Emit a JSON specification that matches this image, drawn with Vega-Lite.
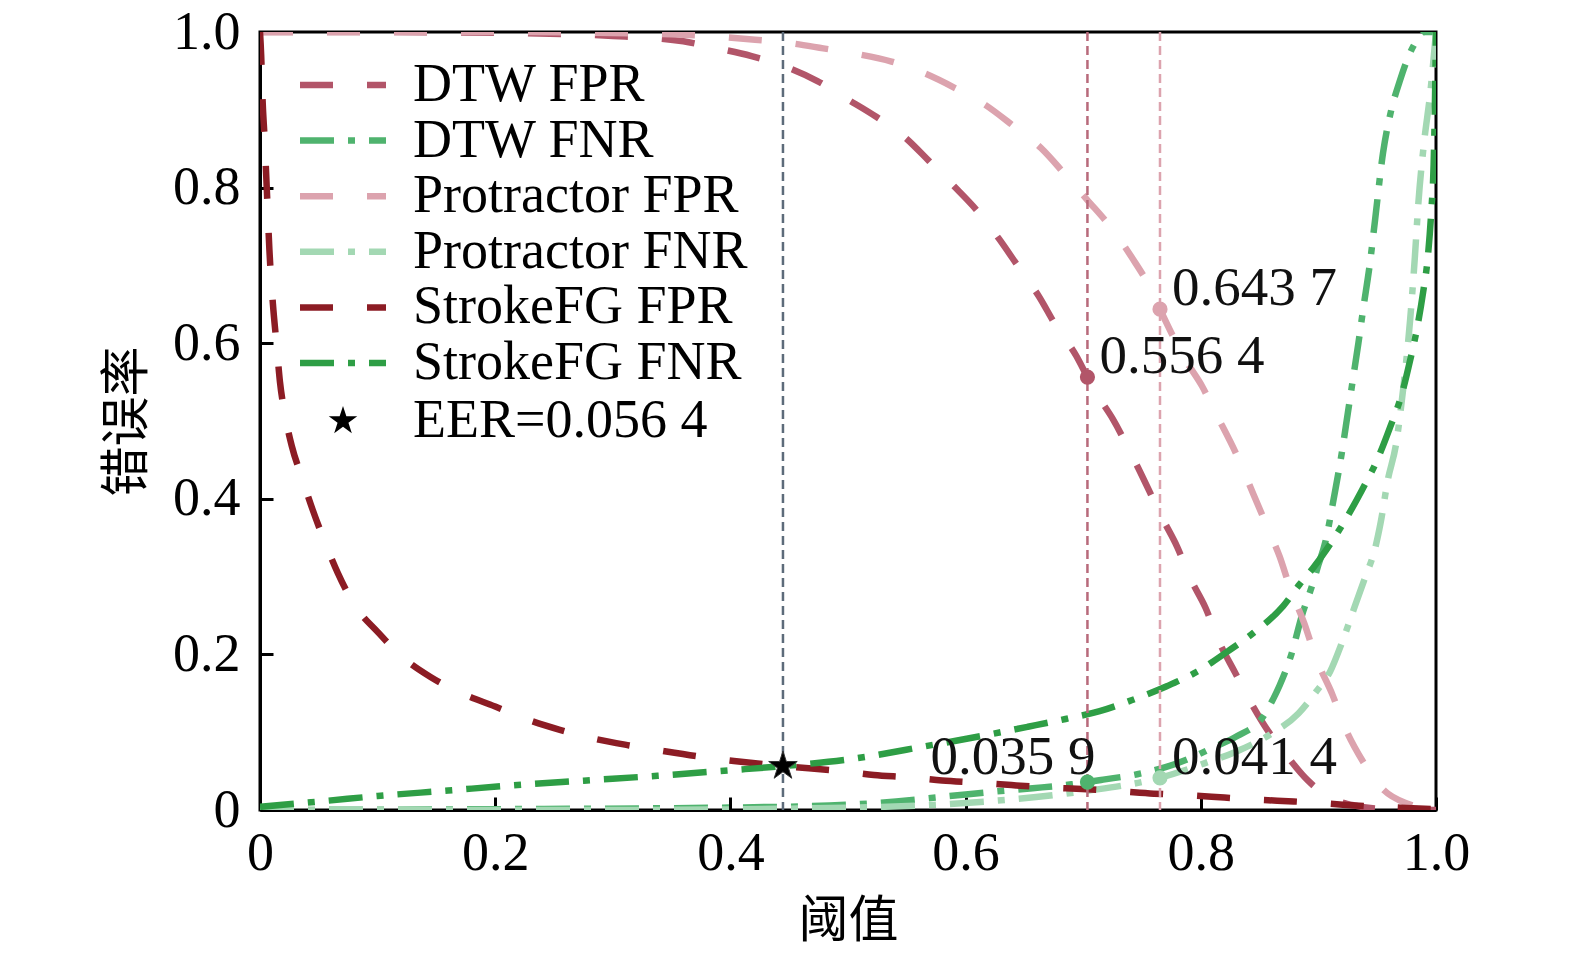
{
  "$schema": "https://vega.github.io/schema/vega-lite/v6.json",
  "width": 1176,
  "height": 778,
  "autosize": {"type": "none"},
  "padding": {"left": 260, "top": 32, "right": 139, "bottom": 146},
  "background": "white",
  "config": {
    "view": {"stroke": "black", "strokeWidth": 3},
    "font": "Liberation Serif",
    "axis": {
      "domainColor": "black",
      "domainWidth": 3,
      "tickColor": "black",
      "tickWidth": 3,
      "tickSize": -13,
      "grid": false,
      "labelFlush": false,
      "labelFont": "Liberation Serif",
      "labelFontSize": 54,
      "labelColor": "black",
      "titleFont": "Noto Sans CJK SC",
      "titleFontSize": 50,
      "titleFontWeight": "normal",
      "titleColor": "black"
    }
  },
  "datasets": {
    "curves": [
      {"series": "DTW FPR", "x": 0, "y": 1.0},
      {"series": "DTW FPR", "x": 0.1, "y": 1.0},
      {"series": "DTW FPR", "x": 0.2, "y": 0.999},
      {"series": "DTW FPR", "x": 0.3, "y": 0.995},
      {"series": "DTW FPR", "x": 0.36, "y": 0.988},
      {"series": "DTW FPR", "x": 0.389, "y": 0.979},
      {"series": "DTW FPR", "x": 0.418, "y": 0.969},
      {"series": "DTW FPR", "x": 0.446, "y": 0.956},
      {"series": "DTW FPR", "x": 0.474, "y": 0.937},
      {"series": "DTW FPR", "x": 0.498, "y": 0.915},
      {"series": "DTW FPR", "x": 0.524, "y": 0.891},
      {"series": "DTW FPR", "x": 0.548, "y": 0.865},
      {"series": "DTW FPR", "x": 0.569, "y": 0.834},
      {"series": "DTW FPR", "x": 0.59, "y": 0.802},
      {"series": "DTW FPR", "x": 0.61, "y": 0.77},
      {"series": "DTW FPR", "x": 0.628, "y": 0.735},
      {"series": "DTW FPR", "x": 0.645, "y": 0.698},
      {"series": "DTW FPR", "x": 0.662, "y": 0.661},
      {"series": "DTW FPR", "x": 0.677, "y": 0.622},
      {"series": "DTW FPR", "x": 0.694, "y": 0.584},
      {"series": "DTW FPR", "x": 0.7036, "y": 0.5564},
      {"series": "DTW FPR", "x": 0.711, "y": 0.536},
      {"series": "DTW FPR", "x": 0.725, "y": 0.503},
      {"series": "DTW FPR", "x": 0.745, "y": 0.445},
      {"series": "DTW FPR", "x": 0.768, "y": 0.373},
      {"series": "DTW FPR", "x": 0.78, "y": 0.338},
      {"series": "DTW FPR", "x": 0.791, "y": 0.298},
      {"series": "DTW FPR", "x": 0.804, "y": 0.26},
      {"series": "DTW FPR", "x": 0.815, "y": 0.218},
      {"series": "DTW FPR", "x": 0.829, "y": 0.177},
      {"series": "DTW FPR", "x": 0.843, "y": 0.137},
      {"series": "DTW FPR", "x": 0.857, "y": 0.102},
      {"series": "DTW FPR", "x": 0.873, "y": 0.07},
      {"series": "DTW FPR", "x": 0.891, "y": 0.038},
      {"series": "DTW FPR", "x": 0.91, "y": 0.016},
      {"series": "DTW FPR", "x": 0.93, "y": 0.006},
      {"series": "DTW FPR", "x": 0.96, "y": 0.001},
      {"series": "DTW FPR", "x": 1.0, "y": 0.0},

      {"series": "DTW FNR", "x": 0, "y": 0.0},
      {"series": "DTW FNR", "x": 0.2, "y": 0.001},
      {"series": "DTW FNR", "x": 0.44, "y": 0.004},
      {"series": "DTW FNR", "x": 0.541, "y": 0.011},
      {"series": "DTW FNR", "x": 0.568, "y": 0.015},
      {"series": "DTW FNR", "x": 0.6, "y": 0.02},
      {"series": "DTW FNR", "x": 0.627, "y": 0.024},
      {"series": "DTW FNR", "x": 0.657, "y": 0.028},
      {"series": "DTW FNR", "x": 0.69, "y": 0.033},
      {"series": "DTW FNR", "x": 0.7036, "y": 0.0359},
      {"series": "DTW FNR", "x": 0.717, "y": 0.039},
      {"series": "DTW FNR", "x": 0.746, "y": 0.046},
      {"series": "DTW FNR", "x": 0.77, "y": 0.055},
      {"series": "DTW FNR", "x": 0.79, "y": 0.066},
      {"series": "DTW FNR", "x": 0.81, "y": 0.08},
      {"series": "DTW FNR", "x": 0.831, "y": 0.095},
      {"series": "DTW FNR", "x": 0.853, "y": 0.12},
      {"series": "DTW FNR", "x": 0.861, "y": 0.141},
      {"series": "DTW FNR", "x": 0.867, "y": 0.16},
      {"series": "DTW FNR", "x": 0.877, "y": 0.2},
      {"series": "DTW FNR", "x": 0.886, "y": 0.25},
      {"series": "DTW FNR", "x": 0.895, "y": 0.29},
      {"series": "DTW FNR", "x": 0.9, "y": 0.315},
      {"series": "DTW FNR", "x": 0.906, "y": 0.345},
      {"series": "DTW FNR", "x": 0.913, "y": 0.4},
      {"series": "DTW FNR", "x": 0.92, "y": 0.46},
      {"series": "DTW FNR", "x": 0.925, "y": 0.51},
      {"series": "DTW FNR", "x": 0.93, "y": 0.56},
      {"series": "DTW FNR", "x": 0.934, "y": 0.6},
      {"series": "DTW FNR", "x": 0.938, "y": 0.643},
      {"series": "DTW FNR", "x": 0.944, "y": 0.705},
      {"series": "DTW FNR", "x": 0.948, "y": 0.756},
      {"series": "DTW FNR", "x": 0.955, "y": 0.845},
      {"series": "DTW FNR", "x": 0.962, "y": 0.9},
      {"series": "DTW FNR", "x": 0.969, "y": 0.936},
      {"series": "DTW FNR", "x": 0.977, "y": 0.97},
      {"series": "DTW FNR", "x": 0.984, "y": 0.99},
      {"series": "DTW FNR", "x": 0.99, "y": 1.0},
      {"series": "DTW FNR", "x": 1.0, "y": 1.0},

      {"series": "Protractor FPR", "x": 0, "y": 1.0},
      {"series": "Protractor FPR", "x": 0.2, "y": 1.0},
      {"series": "Protractor FPR", "x": 0.35, "y": 0.997},
      {"series": "Protractor FPR", "x": 0.421, "y": 0.99},
      {"series": "Protractor FPR", "x": 0.449, "y": 0.986},
      {"series": "Protractor FPR", "x": 0.479, "y": 0.979},
      {"series": "Protractor FPR", "x": 0.507, "y": 0.972},
      {"series": "Protractor FPR", "x": 0.537, "y": 0.962},
      {"series": "Protractor FPR", "x": 0.565, "y": 0.947},
      {"series": "Protractor FPR", "x": 0.591, "y": 0.928},
      {"series": "Protractor FPR", "x": 0.617, "y": 0.906},
      {"series": "Protractor FPR", "x": 0.64, "y": 0.88},
      {"series": "Protractor FPR", "x": 0.664, "y": 0.851},
      {"series": "Protractor FPR", "x": 0.684, "y": 0.818},
      {"series": "Protractor FPR", "x": 0.703, "y": 0.785},
      {"series": "Protractor FPR", "x": 0.725, "y": 0.746},
      {"series": "Protractor FPR", "x": 0.741, "y": 0.711},
      {"series": "Protractor FPR", "x": 0.758, "y": 0.668},
      {"series": "Protractor FPR", "x": 0.7653, "y": 0.6437},
      {"series": "Protractor FPR", "x": 0.776, "y": 0.61},
      {"series": "Protractor FPR", "x": 0.788, "y": 0.576},
      {"series": "Protractor FPR", "x": 0.801, "y": 0.545},
      {"series": "Protractor FPR", "x": 0.812, "y": 0.512},
      {"series": "Protractor FPR", "x": 0.83, "y": 0.458},
      {"series": "Protractor FPR", "x": 0.845, "y": 0.405},
      {"series": "Protractor FPR", "x": 0.857, "y": 0.362},
      {"series": "Protractor FPR", "x": 0.867, "y": 0.326},
      {"series": "Protractor FPR", "x": 0.876, "y": 0.285},
      {"series": "Protractor FPR", "x": 0.888, "y": 0.24},
      {"series": "Protractor FPR", "x": 0.898, "y": 0.195},
      {"series": "Protractor FPR", "x": 0.912, "y": 0.148},
      {"series": "Protractor FPR", "x": 0.922, "y": 0.108},
      {"series": "Protractor FPR", "x": 0.938, "y": 0.062},
      {"series": "Protractor FPR", "x": 0.956, "y": 0.025},
      {"series": "Protractor FPR", "x": 0.976, "y": 0.008},
      {"series": "Protractor FPR", "x": 1.0, "y": 0.0},

      {"series": "Protractor FNR", "x": 0, "y": 0.0},
      {"series": "Protractor FNR", "x": 0.3, "y": 0.0},
      {"series": "Protractor FNR", "x": 0.5, "y": 0.003},
      {"series": "Protractor FNR", "x": 0.6, "y": 0.009},
      {"series": "Protractor FNR", "x": 0.7, "y": 0.024},
      {"series": "Protractor FNR", "x": 0.7653, "y": 0.0414},
      {"series": "Protractor FNR", "x": 0.79, "y": 0.053},
      {"series": "Protractor FNR", "x": 0.803, "y": 0.06},
      {"series": "Protractor FNR", "x": 0.83, "y": 0.075},
      {"series": "Protractor FNR", "x": 0.86, "y": 0.098},
      {"series": "Protractor FNR", "x": 0.883, "y": 0.124},
      {"series": "Protractor FNR", "x": 0.898, "y": 0.152},
      {"series": "Protractor FNR", "x": 0.91, "y": 0.178},
      {"series": "Protractor FNR", "x": 0.92, "y": 0.215},
      {"series": "Protractor FNR", "x": 0.931, "y": 0.262},
      {"series": "Protractor FNR", "x": 0.94, "y": 0.3},
      {"series": "Protractor FNR", "x": 0.948, "y": 0.335},
      {"series": "Protractor FNR", "x": 0.953, "y": 0.37},
      {"series": "Protractor FNR", "x": 0.959, "y": 0.424},
      {"series": "Protractor FNR", "x": 0.966, "y": 0.47},
      {"series": "Protractor FNR", "x": 0.972, "y": 0.54},
      {"series": "Protractor FNR", "x": 0.978, "y": 0.63},
      {"series": "Protractor FNR", "x": 0.982, "y": 0.71},
      {"series": "Protractor FNR", "x": 0.985, "y": 0.78},
      {"series": "Protractor FNR", "x": 0.99, "y": 0.86},
      {"series": "Protractor FNR", "x": 0.995, "y": 0.92},
      {"series": "Protractor FNR", "x": 1.0, "y": 1.0},

      {"series": "StrokeFG FPR", "x": 0, "y": 1.0},
      {"series": "StrokeFG FPR", "x": 0.001, "y": 0.97},
      {"series": "StrokeFG FPR", "x": 0.002, "y": 0.92},
      {"series": "StrokeFG FPR", "x": 0.004, "y": 0.86},
      {"series": "StrokeFG FPR", "x": 0.006, "y": 0.79},
      {"series": "StrokeFG FPR", "x": 0.008, "y": 0.72},
      {"series": "StrokeFG FPR", "x": 0.011, "y": 0.65},
      {"series": "StrokeFG FPR", "x": 0.014, "y": 0.6},
      {"series": "StrokeFG FPR", "x": 0.017, "y": 0.55},
      {"series": "StrokeFG FPR", "x": 0.021, "y": 0.51},
      {"series": "StrokeFG FPR", "x": 0.027, "y": 0.468},
      {"series": "StrokeFG FPR", "x": 0.035, "y": 0.43},
      {"series": "StrokeFG FPR", "x": 0.045, "y": 0.385},
      {"series": "StrokeFG FPR", "x": 0.055, "y": 0.345},
      {"series": "StrokeFG FPR", "x": 0.066, "y": 0.305},
      {"series": "StrokeFG FPR", "x": 0.081, "y": 0.262},
      {"series": "StrokeFG FPR", "x": 0.1, "y": 0.229},
      {"series": "StrokeFG FPR", "x": 0.12, "y": 0.198},
      {"series": "StrokeFG FPR", "x": 0.145, "y": 0.171},
      {"series": "StrokeFG FPR", "x": 0.17, "y": 0.151},
      {"series": "StrokeFG FPR", "x": 0.2, "y": 0.133},
      {"series": "StrokeFG FPR", "x": 0.226, "y": 0.117},
      {"series": "StrokeFG FPR", "x": 0.255, "y": 0.103},
      {"series": "StrokeFG FPR", "x": 0.283, "y": 0.092},
      {"series": "StrokeFG FPR", "x": 0.314, "y": 0.083},
      {"series": "StrokeFG FPR", "x": 0.342, "y": 0.076},
      {"series": "StrokeFG FPR", "x": 0.372, "y": 0.069},
      {"series": "StrokeFG FPR", "x": 0.403, "y": 0.063},
      {"series": "StrokeFG FPR", "x": 0.4447, "y": 0.0564},
      {"series": "StrokeFG FPR", "x": 0.494, "y": 0.05},
      {"series": "StrokeFG FPR", "x": 0.522, "y": 0.045},
      {"series": "StrokeFG FPR", "x": 0.551, "y": 0.042},
      {"series": "StrokeFG FPR", "x": 0.58, "y": 0.038},
      {"series": "StrokeFG FPR", "x": 0.611, "y": 0.035},
      {"series": "StrokeFG FPR", "x": 0.639, "y": 0.032},
      {"series": "StrokeFG FPR", "x": 0.67, "y": 0.029},
      {"series": "StrokeFG FPR", "x": 0.699, "y": 0.027},
      {"series": "StrokeFG FPR", "x": 0.731, "y": 0.024},
      {"series": "StrokeFG FPR", "x": 0.76, "y": 0.021},
      {"series": "StrokeFG FPR", "x": 0.79, "y": 0.019},
      {"series": "StrokeFG FPR", "x": 0.82, "y": 0.016},
      {"series": "StrokeFG FPR", "x": 0.851, "y": 0.013},
      {"series": "StrokeFG FPR", "x": 0.879, "y": 0.011},
      {"series": "StrokeFG FPR", "x": 0.91, "y": 0.008},
      {"series": "StrokeFG FPR", "x": 0.94, "y": 0.005},
      {"series": "StrokeFG FPR", "x": 0.97, "y": 0.003},
      {"series": "StrokeFG FPR", "x": 1.0, "y": 0.001},

      {"series": "StrokeFG FNR", "x": 0, "y": 0.004},
      {"series": "StrokeFG FNR", "x": 0.058, "y": 0.012},
      {"series": "StrokeFG FNR", "x": 0.1, "y": 0.018},
      {"series": "StrokeFG FNR", "x": 0.16, "y": 0.025},
      {"series": "StrokeFG FNR", "x": 0.209, "y": 0.031},
      {"series": "StrokeFG FNR", "x": 0.278, "y": 0.038},
      {"series": "StrokeFG FNR", "x": 0.338, "y": 0.044},
      {"series": "StrokeFG FNR", "x": 0.399, "y": 0.051},
      {"series": "StrokeFG FNR", "x": 0.4447, "y": 0.0564},
      {"series": "StrokeFG FNR", "x": 0.505, "y": 0.066},
      {"series": "StrokeFG FNR", "x": 0.566, "y": 0.082},
      {"series": "StrokeFG FNR", "x": 0.62, "y": 0.097},
      {"series": "StrokeFG FNR", "x": 0.653, "y": 0.107},
      {"series": "StrokeFG FNR", "x": 0.685, "y": 0.117},
      {"series": "StrokeFG FNR", "x": 0.714, "y": 0.127},
      {"series": "StrokeFG FNR", "x": 0.741, "y": 0.141},
      {"series": "StrokeFG FNR", "x": 0.771, "y": 0.159},
      {"series": "StrokeFG FNR", "x": 0.797, "y": 0.178},
      {"series": "StrokeFG FNR", "x": 0.822, "y": 0.203},
      {"series": "StrokeFG FNR", "x": 0.845, "y": 0.228},
      {"series": "StrokeFG FNR", "x": 0.87, "y": 0.262},
      {"series": "StrokeFG FNR", "x": 0.884, "y": 0.29},
      {"series": "StrokeFG FNR", "x": 0.895, "y": 0.31},
      {"series": "StrokeFG FNR", "x": 0.907, "y": 0.335},
      {"series": "StrokeFG FNR", "x": 0.921, "y": 0.368},
      {"series": "StrokeFG FNR", "x": 0.937, "y": 0.411},
      {"series": "StrokeFG FNR", "x": 0.95, "y": 0.45},
      {"series": "StrokeFG FNR", "x": 0.961, "y": 0.492},
      {"series": "StrokeFG FNR", "x": 0.971, "y": 0.535},
      {"series": "StrokeFG FNR", "x": 0.978, "y": 0.578},
      {"series": "StrokeFG FNR", "x": 0.984, "y": 0.62},
      {"series": "StrokeFG FNR", "x": 0.989, "y": 0.665},
      {"series": "StrokeFG FNR", "x": 0.993, "y": 0.71},
      {"series": "StrokeFG FNR", "x": 0.996, "y": 0.77},
      {"series": "StrokeFG FNR", "x": 0.998, "y": 0.83},
      {"series": "StrokeFG FNR", "x": 0.999, "y": 0.9},
      {"series": "StrokeFG FNR", "x": 1.0, "y": 1.0}
    ],
    "thresholds": [
      {"method": "EER", "x": 0.4447},
      {"method": "DTW", "x": 0.7036},
      {"method": "Protractor", "x": 0.7653}
    ],
    "marked": [
      {"series": "DTW FPR", "x": 0.7036, "y": 0.5564, "label": "0.556 4", "side": "right"},
      {"series": "Protractor FPR", "x": 0.7653, "y": 0.6437, "label": "0.643 7", "side": "right"},
      {"series": "DTW FNR", "x": 0.7036, "y": 0.0359, "label": "0.035 9", "side": "left"},
      {"series": "Protractor FNR", "x": 0.7653, "y": 0.0414, "label": "0.041 4", "side": "right"}
    ],
    "eer": [
      {"label": "EER=0.056 4", "x": 0.4447, "y": 0.0564}
    ]
  },
  "encoding": {
    "x": {
      "field": "x",
      "type": "quantitative",
      "title": "阈值",
      "scale": {"domain": [0, 1], "nice": false, "zero": false},
      "axis": {
        "values": [0, 0.2, 0.4, 0.6, 0.8, 1],
        "labelExpr": "datum.value == 0 ? '0' : format(datum.value, '.1f')",
        "labelPadding": 29,
        "titlePadding": 16
      }
    },
    "y": {
      "field": "y",
      "type": "quantitative",
      "title": "错误率",
      "scale": {"domain": [0, 1], "nice": false, "zero": false},
      "axis": {
        "values": [0, 0.2, 0.4, 0.6, 0.8, 1],
        "labelExpr": "datum.value == 0 ? '0' : format(datum.value, '.1f')",
        "labelPadding": 33,
        "titlePadding": 20
      }
    }
  },
  "layer": [
    {
      "data": {"name": "curves"},
      "mark": {"type": "line", "interpolate": "monotone", "clip": true},
      "encoding": {
        "color": {
          "field": "series",
          "type": "nominal",
          "scale": {
            "domain": ["DTW FPR", "DTW FNR", "Protractor FPR", "Protractor FNR", "StrokeFG FPR", "StrokeFG FNR"],
            "range": ["#b25569", "#4fb36e", "#dca3ae", "#a3d8b3", "#8c1c24", "#2e9e45"]
          },
          "legend": {
            "orient": "none",
            "legendX": 56,
            "legendY": 26,
            "title": null,
            "padding": 0,
            "symbolType": "M-2,0L2,0",
            "symbolSize": 1849,
            "symbolStrokeWidth": 7,
            "labelFont": "Liberation Serif",
            "labelFontSize": 54,
            "labelColor": "black",
            "labelOffset": 43,
            "labelLimit": 600,
            "rowPadding": 1.6
          }
        },
        "strokeDash": {
          "field": "series",
          "type": "nominal",
          "scale": {
            "domain": ["DTW FPR", "DTW FNR", "Protractor FPR", "Protractor FNR", "StrokeFG FPR", "StrokeFG FNR"],
            "range": [[33, 34], [34, 14, 7, 14], [33, 34], [34, 14, 7, 14], [33, 34], [34, 14, 7, 14]]
          }
        },
        "strokeWidth": {
          "field": "series",
          "type": "nominal",
          "scale": {
            "domain": ["DTW FPR", "DTW FNR", "Protractor FPR", "Protractor FNR", "StrokeFG FPR", "StrokeFG FNR"],
            "range": [6.5, 6.5, 6.5, 6.5, 8, 8]
          },
          "legend": null
        }
      }
    },
    {
      "data": {"name": "thresholds"},
      "mark": {"type": "rule", "strokeWidth": 2.5, "strokeDash": [9, 5]},
      "encoding": {
        "y": null,
        "stroke": {
          "field": "method",
          "type": "nominal",
          "scale": {"domain": ["EER", "DTW", "Protractor"], "range": ["#5d6b7a", "#b86a7b", "#dca3ae"]},
          "legend": null
        }
      }
    },
    {
      "data": {"name": "marked"},
      "mark": {"type": "circle", "size": 230, "opacity": 1},
      "encoding": {
        "color": {"field": "series", "type": "nominal", "legend": null}
      }
    },
    {
      "data": {"name": "marked"},
      "transform": [{"filter": "datum.side == 'right'"}],
      "mark": {"type": "text", "align": "left", "baseline": "alphabetic", "dx": 12, "dy": -4, "font": "Liberation Serif", "fontSize": 55, "color": "#111111"},
      "encoding": {"text": {"field": "label"}}
    },
    {
      "data": {"name": "marked"},
      "transform": [{"filter": "datum.side == 'left'"}],
      "mark": {"type": "text", "align": "right", "baseline": "alphabetic", "dx": 8, "dy": -8, "font": "Liberation Serif", "fontSize": 55, "color": "#111111"},
      "encoding": {"text": {"field": "label"}}
    },
    {
      "data": {"name": "eer"},
      "mark": {"type": "point", "filled": true, "size": 900, "color": "black", "opacity": 1, "stroke": "#333333", "strokeWidth": 1},
      "encoding": {
        "shape": {
          "field": "label",
          "type": "nominal",
          "scale": {
            "domain": ["EER=0.056 4"],
            "range": ["M0,-1L0.2245,-0.309L0.951,-0.309L0.363,0.118L0.588,0.809L0,0.382L-0.588,0.809L-0.363,0.118L-0.951,-0.309L-0.2245,-0.309Z"]
          },
          "legend": {
            "orient": "none",
            "legendX": 56,
            "legendY": 362,
            "title": null,
            "padding": 0,
            "symbolSize": 900,
            "symbolFillColor": "black",
            "symbolStrokeColor": "black",
            "symbolStrokeWidth": 1,
            "labelFont": "Liberation Serif",
            "labelFontSize": 54,
            "labelColor": "black",
            "labelOffset": 43,
            "labelLimit": 600
          }
        }
      }
    }
  ]
}
